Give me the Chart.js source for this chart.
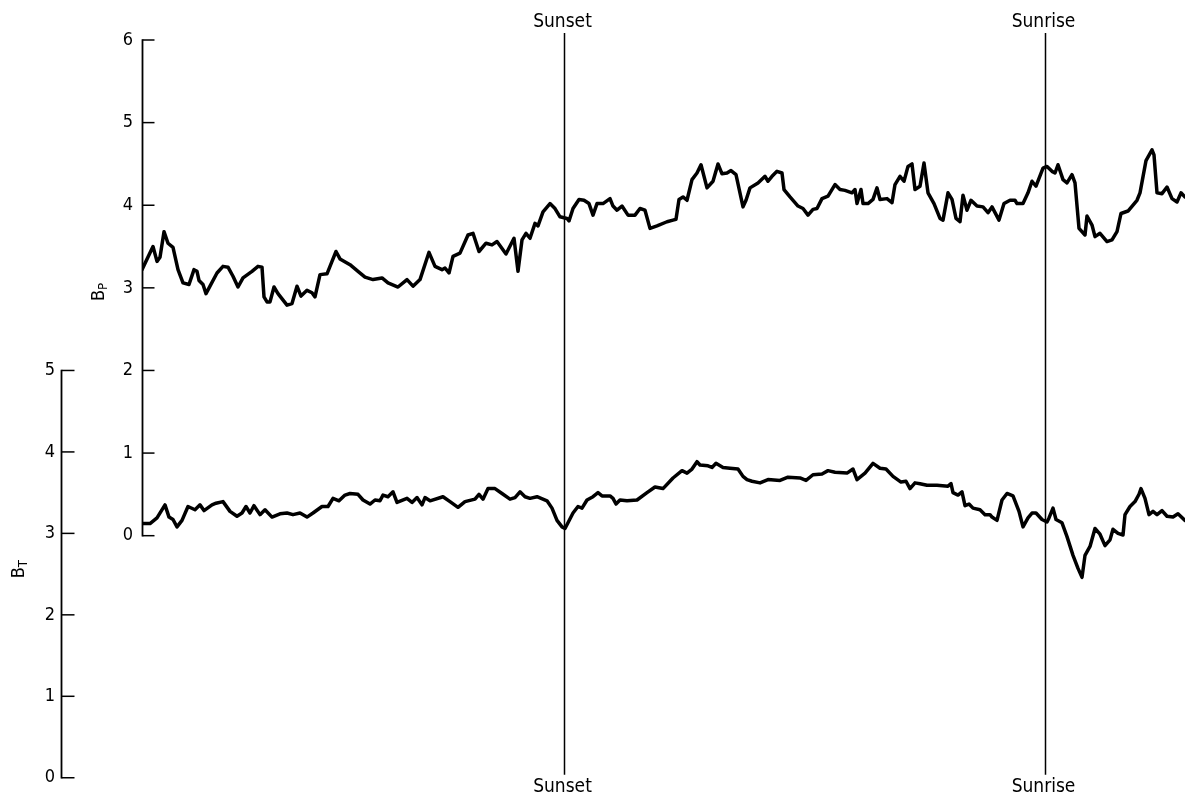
<!DOCTYPE html>
<html>
<head>
<meta charset="utf-8">
<script src="https://cdn.jsdelivr.net/npm/chart.js@4/dist/chart.umd.min.js"></script>
<style>
  html, body { margin: 0; padding: 0; background: #fff; }
  #wrap { width: 1185px; height: 801px; position: relative; }
</style>
</head>
<body>
<div id="wrap"><canvas id="c" width="1185" height="801"></canvas></div>
<script>
// ---- data (time in arbitrary units along the record) ----
const bpTime = [0,1.1,1.5,1.8,2.2,2.6,3.1,3.6,4.1,4.7,5.2,5.5,5.7,6.1,6.4,6.8,7.5,8.1,8.6,9.1,9.6,10.1,11.0,11.6,12.0,12.2,12.5,12.8,13.2,13.6,14.5,15.0,15.5,15.9,16.5,17.0,17.3,17.8,18.5,19.0,19.4,19.8,20.8,21.6,22.3,23.1,24.0,24.6,25.6,26.5,27.1,27.8,28.7,29.3,30.0,30.3,30.7,31.1,31.8,32.6,33.1,33.7,34.4,35.0,35.5,36.4,37.2,37.6,38.0,38.4,38.8,39.3,39.6,40.1,40.8,41.3,41.8,42.5,42.7,43.1,43.7,44.2,44.7,45.1,45.5,46.1,46.8,47.1,47.5,48.0,48.6,49.3,49.8,50.3,50.8,51.5,52.5,53.1,53.4,53.7,54.1,54.5,55.0,55.5,55.9,56.5,57.1,57.6,58.0,58.5,58.9,59.4,60.1,60.4,60.8,61.6,62.3,62.6,63.0,63.5,64.0,64.2,64.8,65.6,66.1,66.6,67.1,67.5,68.0,68.6,69.3,69.8,70.3,71.0,71.3,71.5,71.9,72.1,72.6,73.1,73.5,73.8,74.5,75.0,75.3,75.8,76.2,76.6,77.0,77.3,77.8,78.2,78.6,79.2,79.8,80.1,80.6,81.0,81.4,81.8,82.1,82.5,82.9,83.5,84.1,84.6,85.0,85.7,86.2,86.8,87.3,87.5,88.1,88.6,89.0,89.4,90.1,90.5,91.0,91.3,91.6,92.1,92.5,93.0,93.3,93.7,94.3,94.5,95.0,95.3,95.8,96.5,97.0,97.5,97.9,98.6,99.5,99.8,100.4,101.0,101.2,101.5,102.0,102.5,103.0,103.5,103.9,104.3];
const bpValues = [3.22,3.50,3.32,3.37,3.68,3.54,3.49,3.22,3.06,3.04,3.22,3.20,3.09,3.04,2.93,3.02,3.18,3.26,3.25,3.14,3.01,3.12,3.20,3.26,3.25,2.89,2.83,2.83,3.01,2.93,2.79,2.81,3.02,2.90,2.97,2.94,2.89,3.16,3.17,3.32,3.44,3.35,3.28,3.20,3.13,3.10,3.12,3.06,3.01,3.10,3.02,3.10,3.43,3.26,3.22,3.24,3.18,3.38,3.42,3.64,3.66,3.44,3.54,3.52,3.56,3.41,3.60,3.20,3.58,3.66,3.60,3.78,3.75,3.92,4.02,3.96,3.86,3.84,3.81,3.96,4.07,4.06,4.02,3.88,4.02,4.02,4.08,3.99,3.94,3.99,3.88,3.88,3.96,3.94,3.72,3.75,3.80,3.82,3.83,4.07,4.10,4.06,4.31,4.39,4.49,4.21,4.29,4.50,4.38,4.39,4.42,4.37,3.98,4.06,4.21,4.27,4.35,4.29,4.35,4.41,4.39,4.19,4.10,3.99,3.96,3.88,3.95,3.96,4.08,4.11,4.25,4.19,4.18,4.15,4.19,4.02,4.19,4.02,4.02,4.07,4.21,4.07,4.08,4.03,4.25,4.35,4.29,4.47,4.50,4.19,4.23,4.51,4.15,4.02,3.84,3.82,4.15,4.07,3.84,3.80,4.12,3.94,4.06,3.99,3.98,3.91,3.98,3.82,4.02,4.06,4.06,4.02,4.02,4.15,4.29,4.23,4.45,4.47,4.41,4.39,4.49,4.31,4.27,4.37,4.27,3.72,3.64,3.87,3.76,3.62,3.66,3.56,3.58,3.68,3.90,3.93,4.06,4.15,4.54,4.67,4.61,4.15,4.14,4.22,4.08,4.04,4.15,4.10];

const btTime = [0,0.8,1.5,2.3,2.7,3.1,3.5,4.0,4.6,5.3,5.8,6.2,7.0,7.4,8.1,8.8,9.5,10.0,10.4,10.8,11.2,11.8,12.3,13.0,13.8,14.5,15.1,15.8,16.5,17.1,18.0,18.6,19.1,19.7,20.3,20.8,21.6,22.1,22.8,23.3,23.8,24.1,24.6,25.1,25.5,26.5,27.0,27.5,28.0,28.3,28.8,30.1,30.8,31.6,32.3,33.3,33.7,34.1,34.6,35.3,36.0,36.8,37.3,37.8,38.3,38.8,39.5,40.5,41.0,41.5,42.0,42.3,42.6,43.1,43.6,44.0,44.5,45.1,45.6,46.0,46.8,47.1,47.4,47.8,48.5,49.5,50.5,51.3,52.1,53.1,54.0,54.5,55.0,55.5,55.8,56.6,57.0,57.4,58.1,58.8,59.6,60.1,60.5,61.0,61.8,62.6,63.8,64.6,65.8,66.4,67.1,68.0,68.6,69.3,70.5,71.1,71.5,72.3,73.1,73.8,74.4,75.1,75.9,76.4,76.8,77.3,77.8,78.5,79.5,80.6,80.9,81.1,81.6,82.0,82.3,82.7,83.1,83.8,84.3,84.8,85.0,85.5,86.0,86.5,87.1,87.7,88.1,88.6,89.0,89.4,90.0,90.5,90.7,91.1,91.4,92.0,92.5,93.1,93.6,94.0,94.3,94.8,95.3,95.8,96.3,96.8,97.1,97.6,98.1,98.3,98.8,99.3,99.7,99.9,100.3,100.7,101.1,101.5,102.0,102.5,103.1,103.6,104.3];
const btValues = [3.12,3.12,3.19,3.35,3.20,3.17,3.08,3.16,3.33,3.29,3.35,3.28,3.35,3.37,3.39,3.27,3.21,3.25,3.33,3.25,3.34,3.23,3.29,3.20,3.24,3.25,3.23,3.25,3.20,3.25,3.33,3.33,3.43,3.40,3.47,3.49,3.48,3.41,3.36,3.41,3.40,3.47,3.45,3.51,3.38,3.43,3.38,3.44,3.35,3.44,3.40,3.45,3.39,3.32,3.39,3.42,3.48,3.42,3.55,3.55,3.49,3.42,3.44,3.51,3.45,3.43,3.45,3.40,3.31,3.16,3.08,3.06,3.13,3.25,3.33,3.31,3.41,3.45,3.50,3.46,3.46,3.43,3.36,3.41,3.40,3.41,3.50,3.57,3.55,3.68,3.77,3.74,3.79,3.88,3.84,3.83,3.81,3.86,3.81,3.80,3.79,3.70,3.66,3.64,3.62,3.66,3.65,3.69,3.68,3.65,3.72,3.73,3.77,3.75,3.74,3.79,3.66,3.74,3.86,3.80,3.79,3.70,3.63,3.64,3.55,3.62,3.61,3.59,3.59,3.58,3.61,3.50,3.47,3.51,3.34,3.36,3.31,3.29,3.23,3.23,3.20,3.16,3.41,3.49,3.46,3.27,3.08,3.19,3.25,3.25,3.17,3.14,3.19,3.31,3.17,3.13,2.96,2.73,2.57,2.46,2.73,2.84,3.06,2.99,2.85,2.92,3.05,3.00,2.98,3.23,3.33,3.39,3.48,3.55,3.43,3.23,3.27,3.23,3.28,3.21,3.20,3.24,3.16];

const bpTicks = [0, 1, 2, 3, 4, 5, 6];
const btTicks = [0, 1, 2, 3, 4, 5];
const eventTimes = [42.2, 90.3];
const eventLabels = ['Sunset', 'Sunrise'];
const bpTitle = ['B', 'P'];
const btTitle = ['B', 'T'];

// ---- rendering ----
const FONT = "'DejaVu Sans Condensed', 'Liberation Sans Narrow', 'DejaVu Sans', sans-serif";
const toXY = (xs, ys) => xs.map((x, i) => ({ x: x, y: ys[i] }));

const axisDecor = {
  id: 'axisDecor',
  afterDraw(chart) {
    const ctx = chart.ctx;
    const area = chart.chartArea;
    ctx.save();
    ctx.strokeStyle = '#000';
    ctx.fillStyle = '#000';
    // custom axis lines with inward ticks
    [['yP', bpTicks, 12], ['yT', btTicks, 13]].forEach(([id, ticks, len]) => {
      const s = chart.scales[id];
      const x = s.right + 0.5;
      const y0 = s.getPixelForValue(ticks[0]);
      const y1 = s.getPixelForValue(ticks[ticks.length - 1]);
      ctx.lineWidth = 1.8;
      ctx.beginPath();
      ctx.moveTo(x, y0 + 0.8);
      ctx.lineTo(x, y1 - 0.8);
      ctx.stroke();
      ctx.lineWidth = 1.5;
      ticks.forEach(v => {
        const y = s.getPixelForValue(v);
        ctx.beginPath();
        ctx.moveTo(x, y);
        ctx.lineTo(x + len, y);
        ctx.stroke();
      });
    });
    // vertical sunset / sunrise markers
    const xs = chart.scales.x;
    ctx.font = '19px ' + FONT;
    ctx.textAlign = 'center';
    ctx.textBaseline = 'middle';
    eventTimes.forEach((t, i) => {
      const px = Math.round(xs.getPixelForValue(t)) + 0.5;
      ctx.lineWidth = 1.5;
      ctx.beginPath();
      ctx.moveTo(px, area.top - 7);
      ctx.lineTo(px, area.bottom - 3);
      ctx.stroke();
      ctx.fillText(eventLabels[i], px - 2, area.top - 18);
      ctx.fillText(eventLabels[i], px - 2, area.bottom + 9);
    });
    // axis titles with subscripts, rotated
    const drawTitle = (parts, cx, cy) => {
      ctx.save();
      ctx.translate(cx, cy);
      ctx.rotate(-Math.PI / 2);
      ctx.textAlign = 'left';
      ctx.textBaseline = 'alphabetic';
      ctx.font = '18px ' + FONT;
      const w1 = ctx.measureText(parts[0]).width;
      ctx.font = '13px ' + FONT;
      const w2 = ctx.measureText(parts[1]).width;
      const start = -(w1 + w2) / 2;
      ctx.font = '18px ' + FONT;
      ctx.fillText(parts[0], start, 6);
      ctx.font = '13px ' + FONT;
      ctx.fillText(parts[1], start + w1, 9);
      ctx.restore();
    };
    const sP = chart.scales.yP;
    const sT = chart.scales.yT;
    drawTitle(bpTitle, sP.left + 37, sP.getPixelForValue(2.95));
    drawTitle(btTitle, sT.left + 18, sT.getPixelForValue(2.56));
    ctx.restore();
  }
};

const lineStyle = {
  borderColor: '#000',
  borderWidth: 3.5,
  pointRadius: 0,
  tension: 0,
  fill: false,
  borderJoinStyle: 'round',
  borderCapStyle: 'round'
};

new Chart(document.getElementById('c'), {
  type: 'line',
  data: {
    datasets: [
      Object.assign({ label: 'BP', data: toXY(bpTime, bpValues), yAxisID: 'yP' }, lineStyle),
      Object.assign({ label: 'BT', data: toXY(btTime, btValues), yAxisID: 'yT' }, lineStyle)
    ]
  },
  options: {
    responsive: false,
    animation: false,
    events: [],
    layout: { padding: { left: 0, right: 0, top: 40, bottom: 23.25 } },
    plugins: { legend: { display: false }, tooltip: { enabled: false } },
    scales: {
      x: { type: 'linear', min: 0, max: 104.3, display: false },
      yP: {
        type: 'linear', position: 'left', weight: 1,
        min: -2.93, max: 6,
        grid: { display: false, drawTicks: false },
        border: { display: false },
        afterBuildTicks: s => { s.ticks = bpTicks.map(v => ({ value: v })); },
        afterFit: s => { s.width = 81; },
        ticks: { color: '#000', padding: 9, font: { family: FONT, size: 18 }, callback: v => String(v) }
      },
      yT: {
        type: 'linear', position: 'left', weight: 2,
        min: 0, max: 9.057,
        grid: { display: false, drawTicks: false },
        border: { display: false },
        afterBuildTicks: s => { s.ticks = btTicks.map(v => ({ value: v })); },
        afterFit: s => { s.width = 61; },
        ticks: { color: '#000', padding: 6, font: { family: FONT, size: 18 }, callback: v => String(v) }
      }
    }
  },
  plugins: [axisDecor]
});
</script>
</body>
</html>
